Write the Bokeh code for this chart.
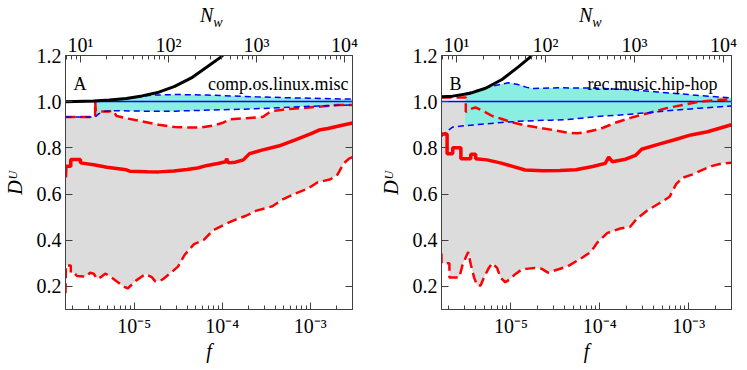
import numpy as np
from bokeh.plotting import figure
from bokeh.models import (Range1d, LogAxis, LinearAxis, LogScale, LogTicker, FixedTicker,
                          CustomJSTickFormatter, PrintfTickFormatter, Label, Div)
from bokeh.layouts import row, column
from bokeh.embed import file_html
from bokeh.resources import INLINE

FONT = "'Liberation Serif', 'Times New Roman', serif"

# ---- axes / ranges ----
LOGF_MIN, LOGF_MAX = -5.78, -2.52        # log10(f) extent of both panels
LOG_NW_PER_F = 6.61                      # log10(N_w / f)
Y_MIN, Y_MAX = 0.1, 1.2
y_ticks = [0.2, 0.4, 0.6, 0.8, 1.0, 1.2]
REF_LEVEL = 1.0
x_title, y_title, top_title, top_sub = "f", "D\u1d41", "N", "w"

# ---- Panel A : comp.os.linux.misc ----
A_tag, A_name = "A", "comp.os.linux.misc"
A_black_logf = [-5.78, -5.46, -5.28, -5.09, -4.91, -4.72, -4.54, -4.35, -4.17, -4.02, -3.97]
A_black_y    = [1.000, 1.003, 1.007, 1.014, 1.025, 1.041, 1.066, 1.103, 1.151, 1.192, 1.210]

A_mean_logf = [-5.78, -5.775, -5.72, -5.72, -5.61, -5.61, -5.46, -5.31, -5.09, -5.05, -4.85, -4.72,
               -4.55, -4.40, -4.28, -4.17, -4.05, -3.96, -3.95, -3.93, -3.85, -3.76, -3.69, -3.55,
               -3.36, -3.17, -2.99, -2.90, -2.80, -2.65, -2.52]
A_mean_y    = [0.672, 0.720, 0.720, 0.750, 0.750, 0.735, 0.727, 0.716, 0.705, 0.699, 0.697, 0.696,
               0.700, 0.706, 0.713, 0.724, 0.732, 0.740, 0.753, 0.735, 0.738, 0.748, 0.775, 0.790,
               0.808, 0.835, 0.862, 0.877, 0.884, 0.897, 0.908]

A_low_logf = [-5.78, -5.775, -5.72, -5.72, -5.683, -5.65, -5.55, -5.50, -5.46, -5.42, -5.38, -5.33,
              -5.28, -5.20, -5.11, -5.074, -5.02, -4.98, -4.90, -4.87, -4.80, -4.76, -4.70, -4.67,
              -4.58, -4.50, -4.43, -4.35, -4.32, -4.21, -4.10, -3.99, -3.87, -3.73, -3.62, -3.43,
              -3.32, -3.17, -3.03, -2.92, -2.77, -2.69, -2.62, -2.56, -2.52]
A_low_y    = [0.170, 0.291, 0.291, 0.259, 0.259, 0.245, 0.242, 0.259, 0.255, 0.232, 0.240, 0.255,
              0.246, 0.222, 0.198, 0.191, 0.210, 0.225, 0.246, 0.253, 0.240, 0.222, 0.225, 0.232,
              0.260, 0.287, 0.335, 0.370, 0.383, 0.401, 0.444, 0.465, 0.486, 0.506, 0.527, 0.547,
              0.575, 0.602, 0.623, 0.650, 0.664, 0.684, 0.733, 0.753, 0.760]

A_up_logf = [-5.78, -5.443, -5.443, -5.435, -5.28, -5.24, -5.20, -5.09, -4.91, -4.72, -4.54, -4.35,
             -4.24, -4.10, -3.99, -3.91, -3.73, -3.54, -3.47, -3.40, -3.25, -3.10, -2.88, -2.69, -2.52]
A_up_y    = [0.934, 0.934, 1.000, 0.958, 0.958, 0.961, 0.938, 0.928, 0.915, 0.900, 0.890, 0.888,
             0.888, 0.897, 0.909, 0.924, 0.928, 0.934, 0.952, 0.961, 0.968, 0.972, 0.979, 0.986, 0.986]

A_bup_logf = [-5.443, -5.28, -5.09, -4.92, -4.80, -4.54, -4.17, -3.99, -3.62, -3.25, -2.88, -2.52]
A_bup_y    = [1.002, 1.006, 1.013, 1.022, 1.028, 1.031, 1.029, 1.026, 1.021, 1.017, 1.014, 1.011]
A_blo_logf = [-5.78, -5.443, -5.40, -5.33, -5.24, -4.91, -4.54, -4.28, -4.10, -3.80, -3.43, -3.06, -2.52]
A_blo_y    = [0.934, 0.934, 0.948, 0.959, 0.961, 0.959, 0.959, 0.962, 0.964, 0.967, 0.972, 0.979, 0.986]

# ---- Panel B : rec.music.hip-hop ----
B_tag, B_name = "B", "rec.music.hip-hop"
B_black_logf = [-5.78, -5.655, -5.47, -5.285, -5.10, -4.916, -4.787, -4.75]
B_black_y    = [1.021, 1.024, 1.035, 1.058, 1.096, 1.151, 1.192, 1.210]

B_mean_logf = [-5.78, -5.717, -5.717, -5.654, -5.654, -5.562, -5.562, -5.451, -5.451, -5.396, -5.396,
               -5.27, -5.12, -5.00, -4.84, -4.64, -4.45, -4.27, -4.08, -3.94, -3.90, -3.86, -3.71,
               -3.60, -3.53, -3.345, -3.16, -2.976, -2.79, -2.52]
B_mean_y    = [0.860, 0.860, 0.774, 0.774, 0.801, 0.801, 0.753, 0.753, 0.772, 0.772, 0.753,
               0.748, 0.735, 0.722, 0.704, 0.701, 0.702, 0.705, 0.719, 0.733, 0.760, 0.740, 0.751,
               0.767, 0.794, 0.815, 0.835, 0.856, 0.870, 0.900]

B_low_logf = [-5.78, -5.78, -5.691, -5.691, -5.58, -5.543, -5.48, -5.45, -5.414, -5.38, -5.34, -5.303,
              -5.248, -5.211, -5.155, -5.118, -5.063, -5.007, -4.952, -4.878, -4.804, -4.731, -4.657,
              -4.583, -4.509, -4.361, -4.213, -4.102, -4.028, -3.918, -3.770, -3.659, -3.585, -3.474,
              -3.327, -3.216, -3.142, -3.068, -2.957, -2.846, -2.735, -2.624, -2.52]
B_low_y    = [0.342, 0.300, 0.300, 0.239, 0.239, 0.294, 0.349, 0.294, 0.239, 0.204, 0.204, 0.239,
              0.280, 0.300, 0.280, 0.239, 0.218, 0.232, 0.253, 0.273, 0.277, 0.280, 0.277,
              0.260, 0.269, 0.287, 0.321, 0.349, 0.390, 0.431, 0.451, 0.458, 0.493, 0.527,
              0.561, 0.588, 0.643, 0.671, 0.685, 0.705, 0.722, 0.733, 0.735]

B_up_logf = [-5.78, -5.507, -5.507, -5.47, -5.40, -5.32, -5.21, -5.10, -4.99, -4.84, -4.73, -4.55,
             -4.36, -4.25, -4.14, -3.99, -3.81, -3.62, -3.44, -3.25, -3.07, -2.88, -2.70, -2.52]
B_up_y    = [1.018, 1.018, 0.955, 0.966, 0.975, 0.961, 0.938, 0.925, 0.911, 0.897, 0.890, 0.879,
             0.866, 0.863, 0.870, 0.883, 0.911, 0.934, 0.952, 0.972, 0.986, 1.000, 1.007, 1.011]

B_bup_logf = [-5.514, -5.35, -5.19, -5.03, -4.92, -4.82, -4.75, -4.45, -4.08, -3.71, -3.35, -2.98, -2.52]
B_bup_y    = [1.035, 1.052, 1.069, 1.082, 1.074, 1.062, 1.057, 1.060, 1.059, 1.053, 1.042, 1.030, 1.016]
B_blo_logf = [-5.78, -5.728, -5.655, -5.514, -5.285, -5.10, -4.916, -4.731, -4.546, -4.361, -4.176,
              -3.992, -3.807, -3.622, -3.438, -3.253, -3.068, -2.884, -2.52]
B_blo_y    = [0.849, 0.870, 0.890, 0.896, 0.904, 0.910, 0.915, 0.918, 0.920, 0.923, 0.930,
              0.937, 0.941, 0.947, 0.953, 0.960, 0.966, 0.972, 0.981]

SUP_JS = """
const sup = {"-": "\u207b", "0": "\u2070", "1": "\u00b9", "2": "\u00b2", "3": "\u00b3",
             "4": "\u2074", "5": "\u2075", "6": "\u2076", "7": "\u2077", "8": "\u2078", "9": "\u2079"};
const e = Math.round(Math.log10(tick));
return "10" + String(e).split("").map(c => sup[c]).join("");
"""

AX_COL = "#404040"
FRAME_W = 290
TOP_DIV_H = 20
FIG_H = 334
BORDER_TOP, BORDER_BOTTOM = 23, 51
PX_PER_DEC = FRAME_W / (LOGF_MAX - LOGF_MIN)
PX_PER_Y = (FIG_H - BORDER_TOP - BORDER_BOTTOM) / (Y_MAX - Y_MIN)


def F(logs):
    return [10 ** v for v in logs]


def style_axis(ax, standoff):
    ax.major_tick_in = 7
    ax.major_tick_out = 0
    ax.minor_tick_in = 4
    ax.minor_tick_out = 0
    ax.axis_line_color = AX_COL
    ax.major_tick_line_color = AX_COL
    ax.minor_tick_line_color = AX_COL
    ax.major_label_text_font = FONT
    ax.major_label_text_font_size = "20px"
    ax.major_label_text_color = "black"
    ax.major_label_standoff = standoff
    ax.axis_label_text_font = FONT
    ax.axis_label_text_font_size = "20px"
    ax.axis_label_text_font_style = "italic"
    ax.axis_label_text_color = "black"


def panel(tag, name, name_inset, d, width, bl, br):
    p = figure(width=width, height=FIG_H, x_axis_type="log",
               x_range=Range1d(10 ** LOGF_MIN, 10 ** LOGF_MAX), y_range=Range1d(Y_MIN, Y_MAX),
               output_backend="svg", toolbar_location=None,
               min_border_left=bl, min_border_right=br,
               min_border_top=BORDER_TOP, min_border_bottom=BORDER_BOTTOM)
    p.xgrid.visible = False
    p.ygrid.visible = False
    p.outline_line_color = AX_COL
    p.background_fill_color = "white"
    p.border_fill_color = "white"

    bottom = p.xaxis[0]
    bottom.ticker = LogTicker(num_minor_ticks=10)
    bottom.formatter = CustomJSTickFormatter(code=SUP_JS)
    style_axis(bottom, 5)
    bottom.axis_label = x_title
    bottom.axis_label_standoff = 0

    left = p.yaxis[0]
    left.ticker = FixedTicker(ticks=y_ticks, minor_ticks=[])
    left.formatter = PrintfTickFormatter(format="%.1f")
    style_axis(left, 4)
    left.axis_label = y_title
    left.axis_label_standoff = 8

    p.extra_x_ranges = {"nw": Range1d(10 ** (LOGF_MIN + LOG_NW_PER_F), 10 ** (LOGF_MAX + LOG_NW_PER_F))}
    p.extra_x_scales = {"nw": LogScale()}
    top = LogAxis(x_range_name="nw", ticker=LogTicker(num_minor_ticks=10),
                  formatter=CustomJSTickFormatter(code=SUP_JS))
    style_axis(top, 0)
    p.add_layout(top, "above")

    right = LinearAxis(ticker=FixedTicker(ticks=y_ticks, minor_ticks=[]),
                       formatter=CustomJSTickFormatter(code="return ''"))
    style_axis(right, 0)
    p.add_layout(right, "right")

    # gray band between red dashed curves (upper limited to the reference level)
    up_y_clip = list(np.minimum(np.array(d["up_y"]), REF_LEVEL))
    gx = F(d["up_logf"]) + F(d["low_logf"][::-1])
    gy = up_y_clip + d["low_y"][::-1]
    p.patch(gx, gy, fill_color="#dcdcdc", line_color=None)

    # cyan band between blue dashed curves
    x0 = d["bup_logf"][0]
    lo_l = [l for l in d["blo_logf"] if l >= x0]
    lo_y = [y for l, y in zip(d["blo_logf"], d["blo_y"]) if l >= x0]
    cx = F(d["bup_logf"]) + F(lo_l[::-1])
    cy = d["bup_y"] + lo_y[::-1]
    p.patch(cx, cy, fill_color="#8aeee0", line_color=None)

    p.hspan(y=[REF_LEVEL], line_color="#0000ff", line_width=1.5)

    p.line(F(d["low_logf"]), d["low_y"], line_color="#ff0000", line_width=2.5, line_dash="10 5")
    p.line(F(d["up_logf"]), d["up_y"], line_color="#ff0000", line_width=2.5, line_dash="10 5")
    p.line(F(d["blo_logf"]), d["blo_y"], line_color="#0000ff", line_width=1.5, line_dash="6 4")
    p.line(F(d["bup_logf"]), d["bup_y"], line_color="#0000ff", line_width=1.5, line_dash="6 4")
    p.line(F(d["mean_logf"]), d["mean_y"], line_color="#ff0000", line_width=3.5)
    p.line(F(d["black_logf"]), d["black_y"], line_color="black", line_width=3)

    y_in = Y_MAX - 28.7 / PX_PER_Y
    p.add_layout(Label(x=10 ** (LOGF_MIN + 8 / PX_PER_DEC), y=y_in, text=tag, text_font=FONT,
                       text_font_size="18px", text_baseline="alphabetic", text_color="black"))
    p.add_layout(Label(x=10 ** (LOGF_MAX - name_inset / PX_PER_DEC), y=y_in, text=name,
                       text_font=FONT, text_font_size="18px", text_align="right",
                       text_baseline="alphabetic", text_color="black"))

    # top title N_w, centred over the frame
    pad = bl + FRAME_W / 2 - 12
    html = ("<div style=\"padding-left:%dpx; font-family:%s; font-style:italic; font-size:20px; "
            "line-height:20px; white-space:nowrap; color:black\">%s<span style=\"font-size:14px; "
            "position:relative; top:5px\">%s</span></div>") % (pad, FONT.replace('"', "'"), top_title, top_sub)
    div = Div(text=html, width=width, height=TOP_DIV_H)
    return column(div, p, spacing=0)


dA = dict(black_logf=A_black_logf, black_y=A_black_y, mean_logf=A_mean_logf, mean_y=A_mean_y,
          low_logf=A_low_logf, low_y=A_low_y, up_logf=A_up_logf, up_y=A_up_y,
          bup_logf=A_bup_logf, bup_y=A_bup_y, blo_logf=A_blo_logf, blo_y=A_blo_y)
dB = dict(black_logf=B_black_logf, black_y=B_black_y, mean_logf=B_mean_logf, mean_y=B_mean_y,
          low_logf=B_low_logf, low_y=B_low_y, up_logf=B_up_logf, up_y=B_up_y,
          bup_logf=B_bup_logf, bup_y=B_bup_y, blo_logf=B_blo_logf, blo_y=B_blo_y)

pA = panel(A_tag, A_name, 4, dA, width=359, bl=62, br=7)
pB = panel(B_tag, B_name, 14, dB, width=372, bl=72, br=10)

layout = row(pA, pB, spacing=0)
open("out.html", "w").write(file_html(layout, INLINE))
